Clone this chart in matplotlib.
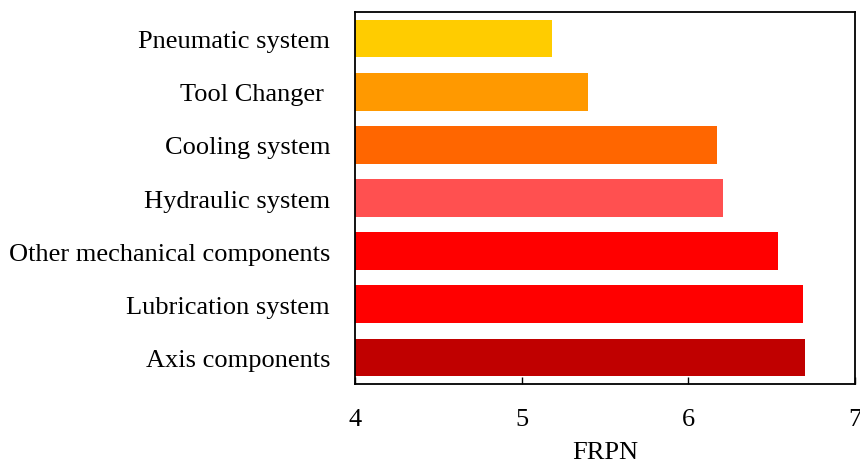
import matplotlib
matplotlib.use("Agg")
from matplotlib import pyplot as plt

# Data (bottom to top)
categories = ["Axis components", "Lubrication system", "Other mechanical components",
              "Hydraulic system", "Cooling system", "Tool Changer ", "Pneumatic system"]
frpn = [6.70, 6.69, 6.54, 6.21, 6.17, 5.40, 5.18]
colors = ["#C00000", "#FF0000", "#FF0000", "#FF5050", "#FF6600", "#FF9900", "#FFCC00"]
xticks = [4, 5, 6, 7]

plt.rcParams["font.family"] = ["Liberation Serif", "DejaVu Serif"]

fig = plt.figure(figsize=(8.6, 4.6), dpi=100)
ax = fig.add_axes([0.4128, 0.163, 0.5814, 0.8087])

# Bars start at the axis minimum
ypos = range(len(categories))
ax.barh(ypos, [v - 4 for v in frpn], left=4, height=0.71, color=colors)

# Axes
ax.set_xlim(4, 7)
ax.set_ylim(-0.5, 6.5)
ax.set_xticks(xticks)
ax.set_yticks(list(ypos))
ax.set_yticklabels(categories, fontsize=19)
ax.tick_params(axis="x", direction="in", length=5, width=1, pad=17, labelsize=19)
ax.tick_params(axis="y", length=0, pad=18)
ax.set_xlabel("FRPN", fontsize=19, labelpad=8)

for s in ax.spines.values():
    s.set_linewidth(1.3)

fig.savefig("out.png", dpi=100)
